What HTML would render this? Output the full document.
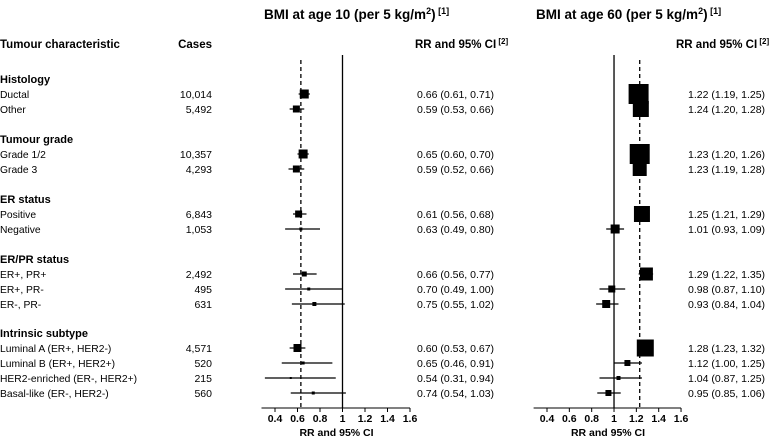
<!DOCTYPE html>
<html><head><meta charset="utf-8"><style>
body{margin:0;background:#fff;width:777px;height:438px;overflow:hidden;font-family:"Liberation Sans",Arial,sans-serif}
svg text{font-family:"Liberation Sans",Arial,sans-serif;fill:#000}
</style></head><body>
<svg id="c" width="777" height="438"></svg>
<script>
const labels=["Ductal","Other","Grade 1/2","Grade 3","Positive","Negative","ER+, PR+","ER+, PR-","ER-, PR-","Luminal A (ER+, HER2-)","Luminal B (ER+, HER2+)","HER2-enriched (ER-, HER2+)","Basal-like (ER-, HER2-)"];
const cases=["10,014","5,492","10,357","4,293","6,843","1,053","2,492","495","631","4,571","520","215","560"];
const rowY=[94,109,154,169,214,229,274,289,304,348,363,378,393];
const groups=["Histology","Tumour grade","ER status","ER/PR status","Intrinsic subtype"];
const groupY=[79,139,199,259,333];
const rr10=[0.66,0.59,0.65,0.59,0.61,0.63,0.66,0.70,0.75,0.60,0.65,0.54,0.74];
const lo10=[0.61,0.53,0.60,0.52,0.56,0.49,0.56,0.49,0.55,0.53,0.46,0.31,0.54];
const hi10=[0.71,0.66,0.70,0.66,0.68,0.80,0.77,1.00,1.02,0.67,0.91,0.94,1.03];
const w10=[9,7,9,7,7,3,5,3,4,8,3,2,3];
const rr60=[1.22,1.24,1.23,1.23,1.25,1.01,1.29,0.98,0.93,1.28,1.12,1.04,0.95];
const lo60=[1.19,1.20,1.20,1.19,1.21,0.93,1.22,0.87,0.84,1.23,1.00,0.87,0.85];
const hi60=[1.25,1.28,1.26,1.28,1.29,1.09,1.35,1.10,1.04,1.32,1.25,1.25,1.06];
const w60=[20,16,20,14,16,9,13,7,8,17,6,4,6];
const pooled=[0.63,1.23];
const ticks=[0.4,0.6,0.8,1,1.2,1.4,1.6];
const tickLabels=["0.4","0.6","0.8","1","1.2","1.4","1.6"];

const svg=document.getElementById('c');const NS="http://www.w3.org/2000/svg";
function mk(t,a,txt){const e=document.createElementNS(NS,t);for(const k in a)e.setAttribute(k,a[k]);if(txt!==undefined)e.textContent=txt;svg.appendChild(e);return e;}
const xL=v=>275+(v-0.4)*112.5;
const xR=v=>547+(v-0.4)*111.7;
const f=v=>v.toFixed(2);

let e;
e=mk('text',{x:0,y:48,'font-size':11.5,'font-weight':'bold'},'Tumour characteristic');


e=mk('text',{x:212,y:48,'font-size':11.5,'font-weight':'bold','text-anchor':'end'},'Cases');


e=mk('text',{x:264,y:19,'font-size':13.5,'font-weight':'bold'});e.innerHTML='BMI at age 10 (per 5 kg/m<tspan dy="-5" font-size="9">2</tspan><tspan dy="5">)</tspan><tspan dy="-5" font-size="9"> [1]</tspan>';


e=mk('text',{x:536,y:19,'font-size':13.5,'font-weight':'bold'});e.innerHTML='BMI at age 60 (per 5 kg/m<tspan dy="-5" font-size="9">2</tspan><tspan dy="5">)</tspan><tspan dy="-5" font-size="9"> [1]</tspan>';


[[415,'left'],[676,'right']].forEach(([x,s])=>{
 e=mk('text',{x:x,y:48,'font-size':11.5,'font-weight':'bold'});e.innerHTML='RR and 95% CI<tspan dy="-4" font-size="8"> [2]</tspan>';
 
 
});
groups.forEach((g,i)=>{
 e=mk('text',{x:0,y:groupY[i]+4,'font-size':11,'font-weight':'bold'},g);
 
 
});
labels.forEach((l,i)=>{
 const y=rowY[i]+4;
 e=mk('text',{x:0,y:y,'font-size':10.3},l);
 
 
 e=mk('text',{x:212,y:y,'font-size':10.5,'text-anchor':'end'},cases[i]);
 
 
 e=mk('text',{x:417,y:y,'font-size':10.5},f(rr10[i])+' ('+f(lo10[i])+', '+f(hi10[i])+')');
 
 
 e=mk('text',{x:688,y:y,'font-size':10.5},f(rr60[i])+' ('+f(lo60[i])+', '+f(hi60[i])+')');
 
 
});
function panel(sx,rr,lo,hi,w,pool,side,axStart){
 const ay=408;
 e=mk('line',{x1:sx(1),x2:sx(1),y1:55,y2:ay,stroke:'#000','stroke-width':1.3});
 
 
 e=mk('line',{x1:sx(pool),x2:sx(pool),y1:60,y2:ay,stroke:'#000','stroke-width':1.3,'stroke-dasharray':'4,3'});
 
 
 e=mk('line',{x1:sx(axStart),x2:sx(1.6),y1:ay,y2:ay,stroke:'#000','stroke-width':1});
 
 
 ticks.forEach((t,i)=>{
  e=mk('line',{x1:sx(t),x2:sx(t),y1:ay,y2:ay+4,stroke:'#000'});
  
  
  e=mk('text',{x:sx(t),y:ay+14,'font-size':10.5,'font-weight':'bold','text-anchor':'middle'},tickLabels[i]);
  
  
 });
 e=mk('text',{x:sx(1)-6,y:ay+28,'font-size':10.5,'font-weight':'bold','text-anchor':'middle'},'RR and 95% CI');
 
 
 rr.forEach((v,i)=>{
  const y=rowY[i];
  e=mk('line',{x1:sx(lo[i]),x2:sx(hi[i]),y1:y,y2:y,stroke:'#000','stroke-width':1.2});
  
  
  const s=w[i];
  e=mk('rect',{x:sx(v)-s/2,y:y-s/2,width:s,height:s,fill:'#000'});
  
  
 });
}
panel(xL,rr10,lo10,hi10,w10,pooled[0],'age10',0.28);
panel(xR,rr60,lo60,hi60,w60,pooled[1],'age60',0.28);
</script>
</body></html>
